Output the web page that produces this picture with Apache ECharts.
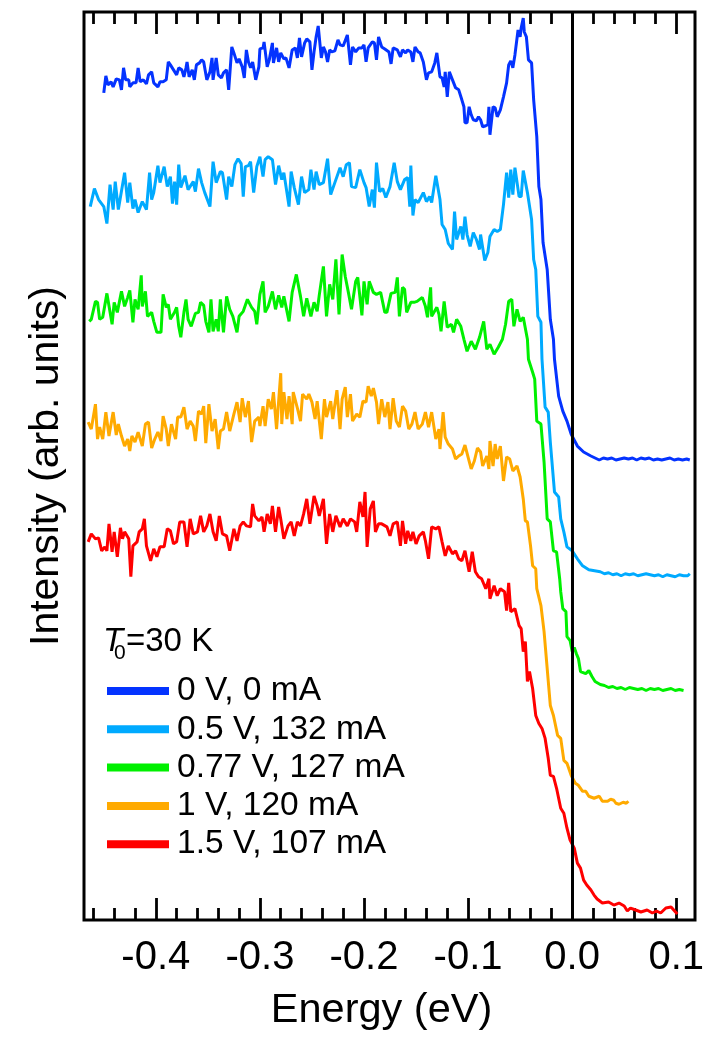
<!DOCTYPE html>
<html><head><meta charset="utf-8">
<script src="https://cdn.jsdelivr.net/npm/echarts@6/dist/echarts.min.js"></script>
<style>html,body{margin:0;padding:0;background:#fff}#c{width:717px;height:1037px}</style>
</head><body><div id="c"></div>
<script>
const seriesNames = ['0 V, 0 mA','0.5 V, 132 mA','0.77 V, 127 mA','1 V, 120 mA','1.5 V, 107 mA'];
const seriesColors = ['#0433FF','#00AAFF','#00F000','#FFAA00','#FF0000'];
const majorTicks = [-0.4,-0.3,-0.2,-0.1,0.0,0.1];
const minorTicks = [-0.46,-0.44,-0.42,-0.38,-0.36,-0.34,-0.32,-0.28,-0.26,-0.24,-0.22,-0.18,-0.16,-0.14,-0.12,-0.08,-0.06,-0.04,-0.02,0.02,0.04,0.06,0.08];

// [energy (eV), intensity (arb. units, offset per curve)]
const spec0V = [
[-0.450,829],[-0.448,846],[-0.446,837],[-0.443,840],[-0.441,835],[-0.438,843],[-0.435,842],[-0.433,832],[-0.431,854],[-0.429,842],
[-0.426,842],[-0.425,835],[-0.422,839],[-0.419,839],[-0.417,854],[-0.415,840],[-0.412,842],[-0.409,838],[-0.407,847],[-0.404,850],
[-0.402,839],[-0.398,835],[-0.396,840],[-0.393,840],[-0.390,842],[-0.388,860],[-0.386,857],[-0.383,852],[-0.380,847],[-0.378,854],
[-0.375,852],[-0.373,845],[-0.371,854],[-0.370,860],[-0.368,845],[-0.365,852],[-0.363,842],[-0.361,857],[-0.358,859],[-0.356,862],
[-0.354,860],[-0.351,842],[-0.348,850],[-0.346,864],[-0.345,842],[-0.342,864],[-0.340,847],[-0.337,844],[-0.335,849],[-0.332,852],
[-0.330,832],[-0.327,875],[-0.325,869],[-0.322,859],[-0.320,863],[-0.317,855],[-0.315,844],[-0.313,872],[-0.311,860],[-0.309,854],
[-0.307,860],[-0.304,842],[-0.301,855],[-0.300,873],[-0.297,874],[-0.296,880],[-0.293,855],[-0.291,862],[-0.288,879],[-0.287,859],
[-0.284,874],[-0.282,860],[-0.280,869],[-0.277,863],[-0.275,864],[-0.272,854],[-0.269,872],[-0.266,874],[-0.264,864],[-0.262,884],
[-0.260,865],[-0.257,879],[-0.255,883],[-0.252,880],[-0.250,852],[-0.248,870],[-0.246,885],[-0.244,896],[-0.241,864],[-0.239,875],
[-0.237,870],[-0.235,860],[-0.233,872],[-0.231,870],[-0.228,871],[-0.225,882],[-0.223,877],[-0.220,876],[-0.216,887],[-0.213,857],
[-0.211,875],[-0.208,870],[-0.205,874],[-0.202,874],[-0.200,877],[-0.198,860],[-0.196,874],[-0.192,880],[-0.190,879],[-0.188,862],
[-0.186,885],[-0.183,875],[-0.180,873],[-0.176,870],[-0.174,858],[-0.172,874],[-0.168,872],[-0.165,865],[-0.163,872],[-0.160,869],
[-0.158,872],[-0.155,870],[-0.153,860],[-0.151,875],[-0.148,870],[-0.146,869],[-0.143,860],[-0.140,842],[-0.138,849],[-0.135,850],
[-0.132,859],[-0.130,869],[-0.127,845],[-0.125,844],[-0.123,835],[-0.122,850],[-0.120,825],[-0.118,850],[-0.115,842],[-0.112,834],
[-0.109,832],[-0.106,822],[-0.104,815],[-0.103,799],[-0.101,799],[-0.099,815],[-0.097,807],[-0.095,802],[-0.092,801],[-0.090,805],
[-0.088,802],[-0.086,795],[-0.083,796],[-0.081,797],[-0.080,815],[-0.079,787],[-0.076,815],[-0.074,814],[-0.072,805],[-0.069,812],
[-0.066,825],[-0.063,839],[-0.061,857],[-0.059,861],[-0.057,854],[-0.055,867],[-0.052,892],[-0.050,885],[-0.049,894],[-0.047,904],
[-0.046,890],[-0.044,885],[-0.042,862],[-0.039,859],[-0.037,822],[-0.034,785],[-0.032,735],[-0.030,722],[-0.029,720],[-0.028,679],
[-0.024,652],[-0.021,602],[-0.018,582],[-0.017,562],[-0.013,525],[-0.009,510],[-0.005,500],[-0.001,487],[0.005,475],[0.011,469],
[0.018,465],[0.022,463],[0.026,461],[0.030,463],[0.034,462],[0.038,463],[0.042,461],[0.046,462],[0.050,463],[0.054,462],
[0.058,463],[0.062,461],[0.066,463],[0.070,462],[0.074,463],[0.078,461],[0.082,462],[0.086,461],[0.090,462],[0.094,463],
[0.098,461],[0.102,462],[0.106,461],[0.110,462],[0.113,461]
];

const spec05V = [
[-0.463,715],[-0.459,733],[-0.455,722],[-0.450,715],[-0.447,698],[-0.444,737],[-0.441,712],[-0.439,740],[-0.436,712],[-0.430,749],
[-0.427,719],[-0.425,739],[-0.422,713],[-0.420,722],[-0.417,709],[-0.413,720],[-0.409,712],[-0.406,749],[-0.404,722],[-0.402,729],
[-0.398,756],[-0.396,739],[-0.392,755],[-0.389,735],[-0.386,745],[-0.384,718],[-0.382,740],[-0.380,717],[-0.378,757],[-0.376,734],
[-0.372,746],[-0.369,732],[-0.364,740],[-0.362,730],[-0.359,753],[-0.356,739],[-0.353,729],[-0.348,715],[-0.345,760],[-0.342,739],
[-0.338,750],[-0.336,749],[-0.332,722],[-0.330,745],[-0.327,735],[-0.324,757],[-0.321,763],[-0.318,758],[-0.316,725],[-0.314,755],
[-0.311,756],[-0.309,760],[-0.306,729],[-0.303,755],[-0.300,765],[-0.297,745],[-0.295,762],[-0.292,765],[-0.288,762],[-0.285,737],
[-0.282,756],[-0.279,742],[-0.277,749],[-0.272,715],[-0.270,750],[-0.267,734],[-0.263,717],[-0.260,745],[-0.257,729],[-0.253,732],
[-0.251,752],[-0.248,732],[-0.246,750],[-0.243,737],[-0.239,739],[-0.235,763],[-0.232,727],[-0.228,739],[-0.223,754],[-0.220,745],
[-0.217,757],[-0.214,759],[-0.212,735],[-0.208,734],[-0.204,752],[-0.200,739],[-0.198,734],[-0.195,715],[-0.192,732],[-0.190,714],
[-0.188,759],[-0.185,730],[-0.182,733],[-0.179,724],[-0.175,735],[-0.171,759],[-0.168,740],[-0.165,732],[-0.161,742],[-0.158,744],
[-0.156,715],[-0.155,756],[-0.153,706],[-0.151,722],[-0.148,719],[-0.143,729],[-0.140,720],[-0.137,725],[-0.135,719],[-0.131,746],
[-0.127,722],[-0.125,697],[-0.122,692],[-0.119,678],[-0.115,672],[-0.113,710],[-0.111,682],[-0.107,695],[-0.105,682],[-0.103,705],
[-0.101,687],[-0.098,675],[-0.095,689],[-0.092,682],[-0.089,672],[-0.088,687],[-0.084,661],[-0.081,669],[-0.079,685],[-0.075,692],
[-0.072,690],[-0.069,692],[-0.066,717],[-0.063,749],[-0.061,724],[-0.059,752],[-0.057,727],[-0.055,754],[-0.051,725],[-0.049,725],
[-0.047,751],[-0.043,729],[-0.039,702],[-0.037,662],[-0.035,652],[-0.033,605],[-0.030,599],[-0.029,562],[-0.026,514],[-0.023,509],
[-0.021,479],[-0.017,429],[-0.013,424],[-0.011,402],[-0.008,389],[-0.005,374],[0.000,370],[0.005,362],[0.010,355],[0.016,351],
[0.027,349],[0.031,347],[0.035,348],[0.039,346],[0.043,347],[0.047,345],[0.051,347],[0.055,346],[0.059,347],[0.063,345],
[0.067,346],[0.071,347],[0.075,346],[0.079,345],[0.083,346],[0.087,344],[0.091,346],[0.095,345],[0.099,344],[0.103,346],
[0.107,345],[0.111,345],[0.113,347]
];

const spec077V = [
[-0.464,600],[-0.462,602],[-0.458,620],[-0.456,619],[-0.454,602],[-0.451,604],[-0.447,628],[-0.442,597],[-0.440,619],[-0.437,609],
[-0.433,630],[-0.430,615],[-0.427,624],[-0.425,631],[-0.422,599],[-0.420,622],[-0.417,612],[-0.414,646],[-0.413,615],[-0.410,630],
[-0.408,605],[-0.404,609],[-0.402,600],[-0.399,589],[-0.395,589],[-0.393,627],[-0.390,614],[-0.388,617],[-0.386,602],[-0.382,609],
[-0.380,614],[-0.378,595],[-0.376,584],[-0.373,609],[-0.371,622],[-0.369,602],[-0.366,595],[-0.362,608],[-0.359,609],[-0.357,619],
[-0.354,616],[-0.352,600],[-0.349,589],[-0.347,622],[-0.345,590],[-0.342,602],[-0.340,590],[-0.338,622],[-0.335,589],[-0.332,625],
[-0.329,612],[-0.326,605],[-0.322,589],[-0.320,605],[-0.316,610],[-0.312,622],[-0.308,614],[-0.305,610],[-0.303,597],[-0.300,627],
[-0.297,640],[-0.295,609],[-0.292,615],[-0.288,630],[-0.285,612],[-0.282,626],[-0.279,614],[-0.277,625],[-0.272,600],[-0.269,629],
[-0.265,647],[-0.261,625],[-0.258,605],[-0.255,623],[-0.251,605],[-0.248,619],[-0.245,610],[-0.243,626],[-0.239,655],[-0.236,605],
[-0.233,637],[-0.230,622],[-0.227,662],[-0.224,607],[-0.221,667],[-0.218,645],[-0.215,629],[-0.212,612],[-0.208,640],[-0.206,644],
[-0.202,606],[-0.200,640],[-0.197,617],[-0.195,640],[-0.191,629],[-0.188,627],[-0.184,629],[-0.180,609],[-0.178,609],[-0.174,628],
[-0.170,629],[-0.168,644],[-0.166,605],[-0.163,634],[-0.161,632],[-0.159,609],[-0.155,619],[-0.152,619],[-0.149,620],[-0.144,624],
[-0.141,615],[-0.139,604],[-0.136,634],[-0.135,605],[-0.130,614],[-0.128,607],[-0.126,590],[-0.123,620],[-0.120,594],[-0.116,597],
[-0.114,589],[-0.111,602],[-0.107,595],[-0.104,582],[-0.101,570],[-0.097,580],[-0.093,572],[-0.089,584],[-0.085,600],[-0.082,572],
[-0.079,577],[-0.075,567],[-0.071,574],[-0.067,582],[-0.064,597],[-0.061,620],[-0.058,622],[-0.056,595],[-0.053,612],[-0.050,600],
[-0.047,604],[-0.043,582],[-0.042,562],[-0.038,549],[-0.036,542],[-0.034,500],[-0.030,497],[-0.027,459],[-0.024,402],[-0.021,399],
[-0.018,370],[-0.015,369],[-0.012,342],[-0.011,329],[-0.009,312],[-0.006,309],[-0.005,284],[-0.002,280],[0.000,269],[0.002,273],
[0.004,267],[0.006,262],[0.008,249],[0.013,247],[0.016,250],[0.019,244],[0.022,239],[0.027,236],[0.031,235],[0.035,233],
[0.039,234],[0.043,232],[0.047,233],[0.051,231],[0.055,233],[0.059,232],[0.063,231],[0.067,232],[0.071,230],[0.075,232],
[0.079,231],[0.083,232],[0.087,230],[0.091,231],[0.095,232],[0.099,230],[0.103,231],[0.107,230]
];

const spec1V = [
[-0.465,499],[-0.462,492],[-0.458,517],[-0.456,482],[-0.454,494],[-0.451,482],[-0.448,509],[-0.445,485],[-0.441,509],[-0.438,486],
[-0.436,497],[-0.433,485],[-0.430,475],[-0.427,482],[-0.425,470],[-0.423,485],[-0.420,479],[-0.417,489],[-0.413,475],[-0.410,497],
[-0.407,499],[-0.404,473],[-0.401,482],[-0.398,489],[-0.395,480],[-0.393,505],[-0.390,492],[-0.388,475],[-0.385,497],[-0.381,482],
[-0.379,504],[-0.376,504],[-0.373,514],[-0.370,492],[-0.367,500],[-0.364,495],[-0.362,480],[-0.359,510],[-0.356,507],[-0.354,515],
[-0.352,478],[-0.349,517],[-0.346,490],[-0.343,502],[-0.340,472],[-0.338,490],[-0.335,492],[-0.332,509],[-0.329,490],[-0.325,507],
[-0.322,519],[-0.319,499],[-0.317,523],[-0.314,504],[-0.311,520],[-0.308,479],[-0.305,500],[-0.301,504],[-0.300,495],[-0.297,515],
[-0.295,495],[-0.292,522],[-0.289,512],[-0.287,529],[-0.284,492],[-0.280,548],[-0.279,497],[-0.277,529],[-0.274,502],[-0.272,525],
[-0.269,497],[-0.268,529],[-0.264,513],[-0.261,500],[-0.259,527],[-0.255,522],[-0.253,527],[-0.250,519],[-0.247,502],[-0.245,520],
[-0.241,482],[-0.238,522],[-0.236,504],[-0.232,520],[-0.230,502],[-0.226,531],[-0.223,492],[-0.221,522],[-0.218,534],[-0.216,504],
[-0.213,527],[-0.211,500],[-0.207,507],[-0.204,504],[-0.201,520],[-0.198,519],[-0.196,535],[-0.193,525],[-0.191,533],[-0.188,519],
[-0.186,497],[-0.183,522],[-0.180,504],[-0.177,519],[-0.175,492],[-0.172,523],[-0.169,500],[-0.166,494],[-0.163,515],[-0.160,510],
[-0.157,492],[-0.154,497],[-0.151,509],[-0.148,492],[-0.144,497],[-0.141,509],[-0.138,494],[-0.135,509],[-0.131,482],[-0.128,492],
[-0.127,472],[-0.124,509],[-0.122,484],[-0.119,477],[-0.115,472],[-0.112,462],[-0.109,465],[-0.106,467],[-0.103,476],[-0.099,460],
[-0.097,452],[-0.094,460],[-0.091,473],[-0.088,469],[-0.086,455],[-0.082,465],[-0.080,452],[-0.079,480],[-0.076,455],[-0.074,477],
[-0.072,462],[-0.069,475],[-0.066,440],[-0.063,464],[-0.060,462],[-0.057,450],[-0.053,455],[-0.050,444],[-0.047,422],[-0.045,400],
[-0.043,399],[-0.040,375],[-0.038,355],[-0.035,352],[-0.034,332],[-0.030,315],[-0.027,289],[-0.024,252],[-0.021,215],[-0.018,205],
[-0.014,185],[-0.011,182],[-0.008,160],[-0.005,157],[-0.001,145],[0.003,137],[0.006,135],[0.010,129],[0.013,129],[0.016,124],
[0.021,122],[0.026,124],[0.029,119],[0.034,119],[0.037,121],[0.040,120],[0.042,117],[0.045,116],[0.047,117],[0.049,118],
[0.052,117],[0.054,119]
];

const spec15V = [
[-0.465,379],[-0.462,387],[-0.458,382],[-0.455,383],[-0.452,370],[-0.449,374],[-0.447,370],[-0.445,397],[-0.442,369],[-0.440,389],
[-0.437,364],[-0.434,393],[-0.432,382],[-0.430,389],[-0.426,382],[-0.424,344],[-0.422,375],[-0.418,379],[-0.416,389],[-0.413,392],
[-0.411,402],[-0.409,375],[-0.405,360],[-0.402,372],[-0.399,364],[-0.396,374],[-0.392,374],[-0.389,392],[-0.386,390],[-0.383,377],
[-0.380,379],[-0.377,399],[-0.373,399],[-0.370,374],[-0.367,402],[-0.364,387],[-0.360,389],[-0.357,405],[-0.354,389],[-0.351,395],
[-0.348,407],[-0.345,389],[-0.342,380],[-0.339,405],[-0.336,387],[-0.332,385],[-0.329,370],[-0.325,392],[-0.322,380],[-0.319,395],
[-0.316,399],[-0.313,395],[-0.309,394],[-0.307,417],[-0.305,405],[-0.301,400],[-0.298,404],[-0.296,389],[-0.293,407],[-0.290,397],
[-0.288,415],[-0.285,389],[-0.282,414],[-0.280,402],[-0.277,382],[-0.273,395],[-0.270,399],[-0.267,385],[-0.264,399],[-0.261,395],
[-0.258,407],[-0.255,422],[-0.252,397],[-0.248,425],[-0.245,415],[-0.243,405],[-0.239,422],[-0.236,377],[-0.233,407],[-0.230,389],
[-0.227,405],[-0.223,394],[-0.220,402],[-0.216,395],[-0.213,402],[-0.209,399],[-0.207,389],[-0.204,419],[-0.201,404],[-0.199,429],
[-0.197,374],[-0.194,412],[-0.191,420],[-0.189,389],[-0.186,397],[-0.183,397],[-0.178,394],[-0.175,385],[-0.172,397],[-0.168,399],
[-0.165,375],[-0.163,400],[-0.160,377],[-0.158,390],[-0.155,380],[-0.153,389],[-0.150,377],[-0.147,385],[-0.143,389],[-0.141,380],
[-0.138,362],[-0.135,394],[-0.131,392],[-0.128,394],[-0.125,379],[-0.122,365],[-0.119,375],[-0.115,367],[-0.112,370],[-0.109,362],
[-0.106,360],[-0.103,370],[-0.099,349],[-0.096,369],[-0.093,349],[-0.090,344],[-0.087,342],[-0.083,332],[-0.080,342],[-0.079,322],
[-0.075,335],[-0.072,325],[-0.069,332],[-0.065,329],[-0.063,310],[-0.061,338],[-0.059,309],[-0.055,312],[-0.051,295],[-0.049,292],
[-0.047,269],[-0.045,279],[-0.043,239],[-0.041,249],[-0.038,232],[-0.035,205],[-0.032,197],[-0.029,192],[-0.026,182],[-0.023,162],
[-0.021,145],[-0.018,144],[-0.015,132],[-0.011,112],[-0.008,107],[-0.005,92],[-0.002,80],[0.002,72],[0.005,57],[0.008,52],
[0.011,40],[0.014,35],[0.018,30],[0.021,25],[0.024,21],[0.029,17],[0.035,18],[0.040,15],[0.045,17],[0.050,14],
[0.053,9],[0.056,12],[0.061,10],[0.066,8],[0.072,10],[0.077,7],[0.081,9],[0.085,7],[0.090,12],[0.095,13],
[0.101,6]
];

const seriesData = [spec0V, spec05V, spec077V, spec1V, spec15V];

const FONT = "'Liberation Sans', Arial, Helvetica, sans-serif";
const X_MIN = -0.469, X_MAX = 0.118;

function xAx(pos, ticks, len, withLabels) {
  return {
    type: 'value', position: pos, min: X_MIN, max: X_MAX,
    axisLine: { show: false },
    splitLine: { show: false },
    axisTick: { show: true, inside: true, length: len, customValues: ticks,
                lineStyle: { color: '#000', width: 2.8 } },
    axisLabel: withLabels ? {
      show: true, customValues: majorTicks, margin: 18,
      fontSize: 40, fontFamily: FONT, color: '#000',
      formatter: v => Number(v).toFixed(1)
    } : { show: false }
  };
}

const chart = echarts.init(document.getElementById('c'), null, { renderer: 'canvas' });
const xMain = xAx('bottom', majorTicks, 22, true);
xMain.name = 'Energy (eV)';
xMain.nameLocation = 'middle';
xMain.nameGap = 70;
xMain.nameTextStyle = { fontSize: 41.5, fontFamily: FONT, color: '#000', padding: [0, 16, 0, 0] };

chart.setOption({
  animation: false,
  backgroundColor: '#fff',
  grid: { left: 84, right: 22, top: 12, bottom: 115, show: true, borderColor: '#000', borderWidth: 3, backgroundColor: 'transparent' },
  xAxis: [ xMain, xAx('bottom', minorTicks, 12, false), xAx('top', majorTicks, 22, false), xAx('top', minorTicks, 12, false) ],
  yAxis: {
    type: 'value', min: 0, max: 910,
    axisLine: { show: false }, axisTick: { show: false }, axisLabel: { show: false }, splitLine: { show: false },
    name: 'Intensity (arb. units)', nameLocation: 'middle', nameRotate: 90, nameGap: 17,
    nameTextStyle: { fontSize: 41, fontFamily: FONT, color: '#000' }
  },
  legend: {
    show: true, orient: 'vertical', left: 102, top: 669,
    itemWidth: 62, itemHeight: 8, itemGap: 4.3, icon: 'rect',
    data: seriesNames,
    textStyle: { fontSize: 33.5, fontFamily: FONT, color: '#000', padding: [0, 0, 0, 3] }
  },
  graphic: [
    { type: 'text', left: 103, top: 625, style: { text: 'T', font: 'italic 33px ' + FONT, fill: '#000' } },
    { type: 'text', left: 114, top: 643, style: { text: '0', font: '21px ' + FONT, fill: '#000' } },
    { type: 'text', left: 126, top: 625, style: { text: '=30 K', font: '33px ' + FONT, fill: '#000' } }
  ],
  series: seriesData.map((d, i) => ({
    name: seriesNames[i], type: 'line', data: d, xAxisIndex: 0, yAxisIndex: 0,
    showSymbol: false, symbol: 'none', color: seriesColors[i],
    lineStyle: { width: 3, color: seriesColors[i] },
    z: 3,
    markLine: i === 0 ? {
      silent: true, symbol: ['none', 'none'], label: { show: false },
      lineStyle: { color: '#000', width: 3, type: 'solid' },
      data: [{ xAxis: 0 }]
    } : undefined
  }))
});
</script>
</body></html>
